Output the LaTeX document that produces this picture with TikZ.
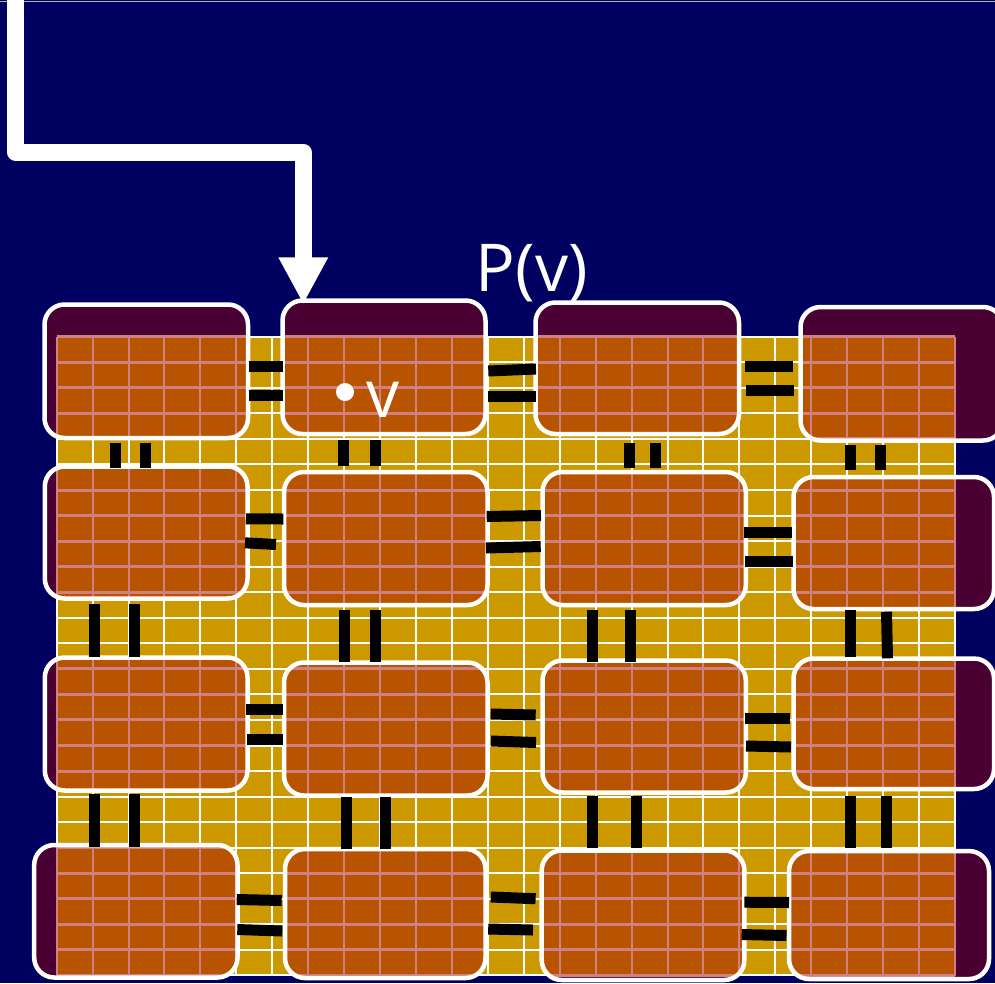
\documentclass[tikz,border=0pt]{standalone}
\usepackage{fontspec}
\usetikzlibrary{calc}
\newfontfamily\labelfont{Open Sans}
\definecolor{navybg}{RGB}{0,0,96}
\definecolor{goldbg}{RGB}{204,153,0}
\definecolor{orangebg}{RGB}{184,84,0}
\definecolor{pinkline}{RGB}{208,128,128}
\definecolor{tilebg}{RGB}{74,0,51}
\tikzset{
  tilefill/.style={fill=tilebg, rounded corners=20pt},
  tileborder/.style={draw=white, line width=4.5pt, rounded corners=20pt},
  whitegrid/.style={draw=white, line width=2pt},
  pinkgridv/.style={draw=pinkline, line width=2pt},
  pinkgridh/.style={draw=pinkline, line width=3pt},
  barline/.style={draw=black, line width=11pt},
  arrowline/.style={draw=white, line width=17pt, line join=round},
  lbl/.style={text=white, inner sep=0pt, font=\labelfont\fontsize{66}{70}\selectfont}
}
\newcommand{\gridlines}[2]{%
  \foreach \i in {0,...,25} {
    \draw[#1] ({56.7+\i*35.93},336.7) -- ({56.7+\i*35.93},975.5);
    \draw[#2] (56.7,{336.7+\i*25.55}) -- (955,{336.7+\i*25.55});
  }}
\newcommand{\tile}[4]{%
  \fill[tilefill] (#1,#2) rectangle (#3,#4);
  \begin{scope}
    \clip[rounded corners=20pt] (#1,#2) rectangle (#3,#4);
    \fill[orangebg] (56.7,336.7) rectangle (955,975.5);
    \gridlines{pinkgridv}{pinkgridh}
  \end{scope}
  \draw[tileborder] (#1,#2) rectangle (#3,#4);}
\begin{document}
\begin{tikzpicture}[x=1pt,y=-1pt]
\useasboundingbox (0,0) rectangle (995,983);
\fill[navybg] (0,0) rectangle (995,983);
\draw[gray!60, line width=1pt] (0,1.5) -- (995,1.5);
% gold grid
\fill[goldbg] (56.7,336.7) rectangle (955,975.5);
\gridlines{whitegrid}{whitegrid}
% tiles
\tile{44.5}{304.5}{248}{438}
\tile{282.5}{300.5}{485.5}{434}
\tile{535.5}{302.5}{739}{434}
\tile{800.5}{307}{1003}{440.5}
\tile{44.8}{466.5}{247.5}{598.5}
\tile{284}{472}{487.5}{605}
\tile{542.5}{472}{745.8}{605}
\tile{793.5}{477}{994}{609}
\tile{44.8}{657.5}{247.5}{790.5}
\tile{284}{662.5}{487.5}{795.5}
\tile{542.5}{660.5}{745.8}{792.5}
\tile{793.5}{658.5}{994}{789}
\tile{34.2}{845}{237.5}{977.5}
\tile{285}{849}{485.5}{978}
\tile{541.7}{850.5}{744.4}{980}
\tile{789}{851}{989}{979}
% horizontal bars
\draw[barline] (249.3,366.7) -- (283.3,366.7);
\draw[barline] (249.3,395) -- (283.3,395);
\draw[barline] (488.3,371) -- (536,369);
\draw[barline] (488.3,396) -- (536,396);
\draw[barline] (745,366.2) -- (793.3,366.2);
\draw[barline] (746,390.5) -- (794,390.5);
\draw[barline] (246,518.8) -- (283.3,519);
\draw[barline] (245,542.8) -- (276,544.5);
\draw[barline] (486.7,516.5) -- (541,515.5);
\draw[barline] (486,548) -- (540.7,546.5);
\draw[barline] (744,532.2) -- (791.7,532.2);
\draw[barline] (745,561) -- (792.7,561);
\draw[barline] (246,709.8) -- (283.3,709.8);
\draw[barline] (246.7,739.2) -- (283.3,739.2);
\draw[barline] (490.7,714) -- (535.7,715);
\draw[barline] (491,741) -- (536,742.5);
\draw[barline] (745,718.8) -- (790,718.8);
\draw[barline] (746,746) -- (791,747);
\draw[barline] (236.7,899.5) -- (281.7,900.5);
\draw[barline] (237.3,929.5) -- (282.3,931);
\draw[barline] (490.8,897) -- (535.6,898.7);
\draw[barline] (488.2,929) -- (533,930);
\draw[barline] (744.3,902.2) -- (789,902.5);
\draw[barline] (741.7,934.5) -- (786.5,935.5);
% vertical bars
\draw[barline] (115.5,442.7) -- (115.5,468.3);
\draw[barline] (145,442.7) -- (145,468.3);
\draw[barline] (343.8,440) -- (343.8,465.7);
\draw[barline] (375,440) -- (375,465.7);
\draw[barline] (629.8,443.3) -- (629.8,468.3);
\draw[barline] (655.2,443.3) -- (655.2,468.3);
\draw[barline] (850.8,445) -- (850.8,470);
\draw[barline] (880.8,445) -- (880.8,470);
\draw[barline] (94.2,604.3) -- (94.2,656.7);
\draw[barline] (134.2,604.3) -- (134.2,656.7);
\draw[barline] (344.2,610) -- (344.2,661.7);
\draw[barline] (375,610) -- (375,661.7);
\draw[barline] (592.8,610) -- (592.8,661.7);
\draw[barline] (630,610) -- (630,661.7);
\draw[barline] (850.8,610) -- (850.8,656.7);
\draw[barline] (886.5,611.7) -- (887.5,658.3);
\draw[barline] (94.2,794) -- (94.2,846.7);
\draw[barline] (134.2,794) -- (134.2,846.7);
\draw[barline] (346,796.7) -- (346,849.3);
\draw[barline] (385,796.7) -- (385,849.3);
\draw[barline] (592.8,795.7) -- (592.8,848.3);
\draw[barline] (636,795.7) -- (636,848.3);
\draw[barline] (850.8,795.7) -- (850.8,848.3);
\draw[barline] (886.8,795.7) -- (886.8,848.3);
% arrow
\coordinate (src) at (15.8,-10);
\coordinate (bend) at (303.3,152.3);
\coordinate (tgt) at (303.3,303.3);
\draw[arrowline] (src) |- (bend) -- ($(tgt)+(0,-44)$);
\fill[white] (tgt) -- ($(tgt)+(-25,-46)$) -- ($(tgt)+(25,-46)$) -- cycle;
% labels
\fill[white] (345,392) circle (9pt);
\node[lbl, anchor=base] (vlab) at (383.5,417.3) {v};
\node[lbl, anchor=base] (pv) at (531.7,291.7) {P(v)};
\end{tikzpicture}
\end{document}
